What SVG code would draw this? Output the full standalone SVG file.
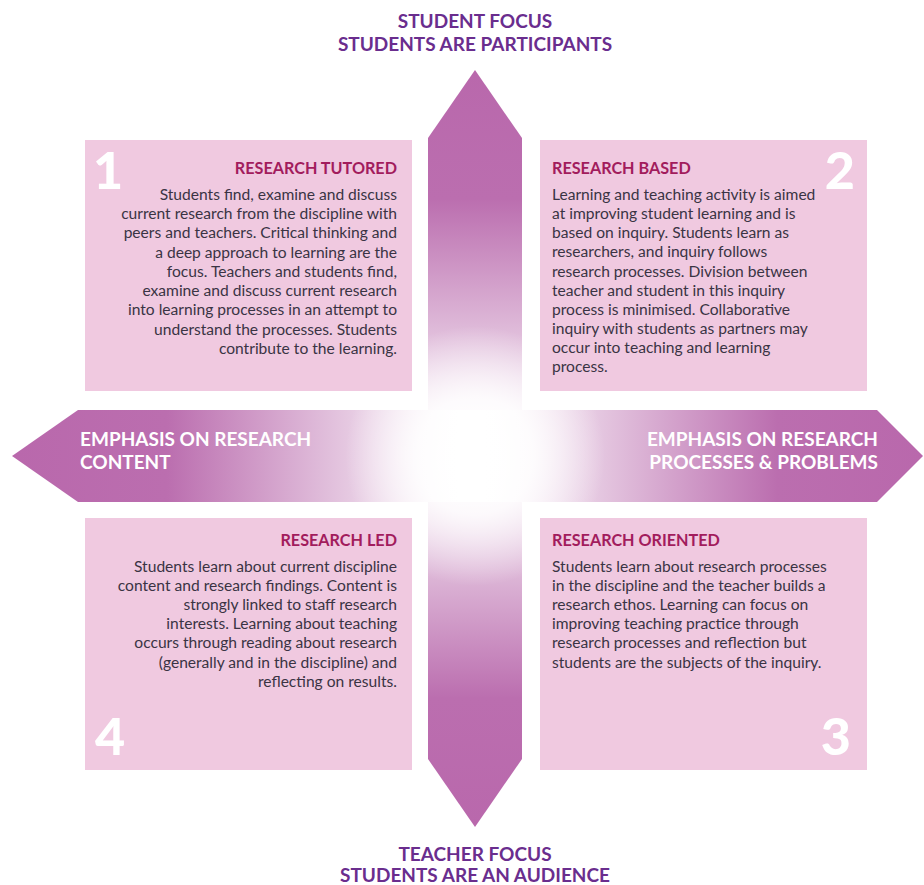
<svg xmlns="http://www.w3.org/2000/svg" width="924" height="885" viewBox="0 0 924 885">
<style>
.hd{font-family:Lato,"Open Sans",sans-serif;font-weight:bold;font-size:19px;fill:#6a2d8e;text-anchor:middle}
.ar{font-family:Lato,"Open Sans",sans-serif;font-weight:bold;font-size:19px;fill:#ffffff}
.bx{fill:#f0c9e0}
.tt{font-family:Lato,"Open Sans",sans-serif;font-weight:bold;font-size:16.2px;fill:#a21c5d}
.tx{font-family:Lato,"Open Sans",sans-serif;font-size:15.6px;fill:#3a3444}
.nm{font-family:Lato,"Open Sans",sans-serif;font-weight:900;font-size:52px;fill:#ffffff}
.r{text-anchor:end}
</style>
<defs>
<linearGradient id="gv" gradientUnits="userSpaceOnUse" x1="0" y1="70" x2="0" y2="827">
<stop offset="0" stop-color="#b968ac"/>
<stop offset="0.17" stop-color="#bb6eaf"/>
<stop offset="0.5" stop-color="#ffffff"/>
<stop offset="0.83" stop-color="#bb6eaf"/>
<stop offset="1" stop-color="#b968ac"/>
</linearGradient>
<linearGradient id="gh" gradientUnits="userSpaceOnUse" x1="12" y1="0" x2="923" y2="0">
<stop offset="0" stop-color="#b968ac"/>
<stop offset="0.17" stop-color="#bb6eaf"/>
<stop offset="0.49" stop-color="#ffffff"/>
<stop offset="0.52" stop-color="#ffffff"/>
<stop offset="0.84" stop-color="#bb6eaf"/>
<stop offset="1" stop-color="#b968ac"/>
</linearGradient>
<radialGradient id="gc" gradientUnits="userSpaceOnUse" cx="475" cy="456" r="130">
<stop offset="0" stop-color="#ffffff" stop-opacity="1"/>
<stop offset="0.45" stop-color="#ffffff" stop-opacity="0.85"/>
<stop offset="1" stop-color="#ffffff" stop-opacity="0"/>
</radialGradient>
<clipPath id="cross">
<polygon points="475,70 522,138 522,410 877,410 923,456 877,502 522,502 522,759 475,827 428,759 428,502 78,502 12,456 78,410 428,410 428,138"/>
</clipPath>
</defs>
<rect width="924" height="885" fill="#ffffff"/>
<g id="connectors">
<polygon id="arrow-up-down" fill="url(#gv)" points="475,70 522,138 522,759 475,827 428,759 428,138"/>
<polygon id="arrow-left-right" fill="url(#gh)" points="12,456 78,410 877,410 923,456 877,502 78,502"/>
<rect x="300" y="300" width="350" height="320" fill="url(#gc)" clip-path="url(#cross)"/>
</g>
<g id="label-top">
<text class="hd" x="475" y="28">STUDENT FOCUS</text>
<text class="hd" x="475" y="51">STUDENTS ARE PARTICIPANTS</text>
</g>
<g id="label-bottom">
<text class="hd" x="475" y="861">TEACHER FOCUS</text>
<text class="hd" x="475" y="882">STUDENTS ARE AN AUDIENCE</text>
</g>
<g id="label-left">
<text class="ar" x="80" y="446">EMPHASIS ON RESEARCH</text>
<text class="ar" x="80" y="469">CONTENT</text>
</g>
<g id="label-right">
<text class="ar r" x="878" y="446">EMPHASIS ON RESEARCH</text>
<text class="ar r" x="878" y="469">PROCESSES &amp; PROBLEMS</text>
</g>
<g id="box1">
<rect class="bx" x="85" y="140" width="327" height="251"/>
<text class="nm" x="93" y="189">1</text>
<text class="tt r" x="397" y="174">RESEARCH TUTORED</text>
<text class="tx r" x="397" y="200">Students find, examine and discuss</text>
<text class="tx r" x="397" y="219">current research from the discipline with</text>
<text class="tx r" x="397" y="238">peers and teachers. Critical thinking and</text>
<text class="tx r" x="397" y="258">a deep approach to learning are the</text>
<text class="tx r" x="397" y="277">focus. Teachers and students find,</text>
<text class="tx r" x="397" y="296">examine and discuss current research</text>
<text class="tx r" x="397" y="315">into learning processes in an attempt to</text>
<text class="tx r" x="397" y="335">understand the processes. Students</text>
<text class="tx r" x="397" y="354">contribute to the learning.</text>
</g>
<g id="box2">
<rect class="bx" x="540" y="140" width="327" height="251"/>
<text class="nm r" x="855" y="189">2</text>
<text class="tt" x="552" y="174">RESEARCH BASED</text>
<text class="tx" x="552" y="200">Learning and teaching activity is aimed</text>
<text class="tx" x="552" y="219">at improving student learning and is</text>
<text class="tx" x="552" y="238">based on inquiry. Students learn as</text>
<text class="tx" x="552" y="257">researchers, and inquiry follows</text>
<text class="tx" x="552" y="277">research processes. Division between</text>
<text class="tx" x="552" y="296">teacher and student in this inquiry</text>
<text class="tx" x="552" y="315">process is minimised. Collaborative</text>
<text class="tx" x="552" y="334">inquiry with students as partners may</text>
<text class="tx" x="552" y="353">occur into teaching and learning</text>
<text class="tx" x="552" y="372">process.</text>
</g>
<g id="box4">
<rect class="bx" x="85" y="518" width="327" height="252"/>
<text class="nm" x="95" y="755">4</text>
<text class="tt r" x="397" y="546">RESEARCH LED</text>
<text class="tx r" x="397" y="572">Students learn about current discipline</text>
<text class="tx r" x="397" y="591">content and research findings. Content is</text>
<text class="tx r" x="397" y="610">strongly linked to staff research</text>
<text class="tx r" x="397" y="629">interests. Learning about teaching</text>
<text class="tx r" x="397" y="648">occurs through reading about research</text>
<text class="tx r" x="397" y="668">(generally and in the discipline) and</text>
<text class="tx r" x="397" y="687">reflecting on results.</text>
</g>
<g id="box3">
<rect class="bx" x="540" y="518" width="327" height="252"/>
<text class="nm r" x="851" y="755">3</text>
<text class="tt" x="552" y="546">RESEARCH ORIENTED</text>
<text class="tx" x="552" y="572">Students learn about research processes</text>
<text class="tx" x="552" y="591">in the discipline and the teacher builds a</text>
<text class="tx" x="552" y="610">research ethos. Learning can focus on</text>
<text class="tx" x="552" y="629">improving teaching practice through</text>
<text class="tx" x="552" y="648">research processes and reflection but</text>
<text class="tx" x="552" y="668">students are the subjects of the inquiry.</text>
</g>
</svg>
